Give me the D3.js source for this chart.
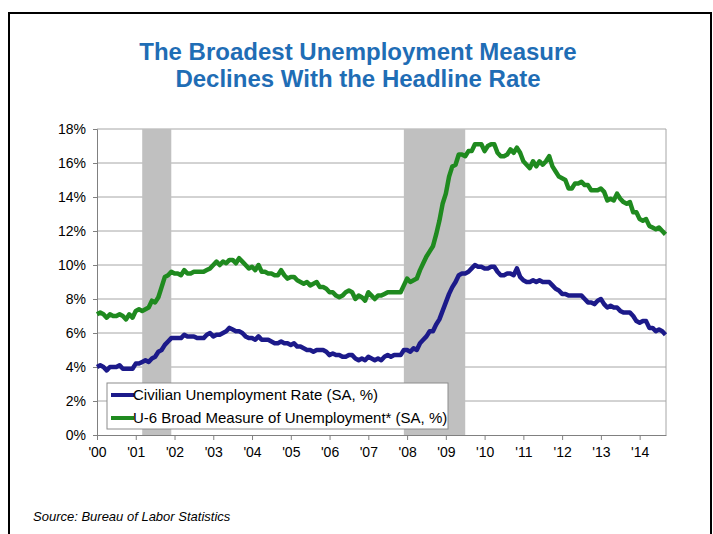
<!DOCTYPE html>
<html>
<head>
<meta charset="utf-8">
<title>The Broadest Unemployment Measure Declines With the Headline Rate</title>
<style>
  body { margin: 0; background: #fff; }
  text { font-family: "Liberation Sans", Arial, sans-serif; }
</style>
</head>
<body>
<svg width="713" height="534"></svg>
<script src="https://d3js.org/d3.v7.min.js"></script>
<script>
// monthly data, Jan 2000 - Sep 2014
var startYear = 2000;

// Civilian unemployment rate (SA, %)
var unrate = [
  4.0, 4.1, 4.0, 3.8, 4.0, 4.0, 4.0, 4.1, 3.9, 3.9, 3.9, 3.9,
  4.2, 4.2, 4.3, 4.4, 4.3, 4.5, 4.6, 4.9, 5.0, 5.3, 5.5, 5.7,
  5.7, 5.7, 5.7, 5.9, 5.8, 5.8, 5.8, 5.7, 5.7, 5.7, 5.9, 6.0,
  5.8, 5.9, 5.9, 6.0, 6.1, 6.3, 6.2, 6.1, 6.1, 6.0, 5.8, 5.7,
  5.7, 5.6, 5.8, 5.6, 5.6, 5.6, 5.5, 5.4, 5.4, 5.5, 5.4, 5.4,
  5.3, 5.4, 5.2, 5.2, 5.1, 5.0, 5.0, 4.9, 5.0, 5.0, 5.0, 4.9,
  4.7, 4.8, 4.7, 4.7, 4.6, 4.6, 4.7, 4.7, 4.5, 4.4, 4.5, 4.4,
  4.6, 4.5, 4.4, 4.5, 4.4, 4.6, 4.7, 4.6, 4.7, 4.7, 4.7, 5.0,
  5.0, 4.9, 5.1, 5.0, 5.4, 5.6, 5.8, 6.1, 6.1, 6.5, 6.8, 7.3,
  7.8, 8.3, 8.7, 9.0, 9.4, 9.5, 9.5, 9.6, 9.8, 10.0, 9.9, 9.9,
  9.8, 9.8, 9.9, 9.9, 9.6, 9.4, 9.4, 9.5, 9.5, 9.4, 9.8, 9.3,
  9.1, 9.0, 9.0, 9.1, 9.0, 9.1, 9.0, 9.0, 9.0, 8.8, 8.6, 8.5,
  8.3, 8.3, 8.2, 8.2, 8.2, 8.2, 8.2, 8.0, 7.8, 7.8, 7.7, 7.9,
  8.0, 7.7, 7.5, 7.6, 7.5, 7.5, 7.3, 7.2, 7.2, 7.2, 7.0, 6.7,
  6.6, 6.7, 6.7, 6.3, 6.3, 6.1, 6.2, 6.1, 5.9
];

// U-6 broad measure of unemployment (SA, %)
var u6 = [
  7.1, 7.2, 7.1, 6.9, 7.1, 7.0, 7.0, 7.1, 7.0, 6.8, 7.1, 6.9,
  7.3, 7.4, 7.3, 7.4, 7.5, 7.9, 7.8, 8.1, 8.7, 9.3, 9.4, 9.6,
  9.5, 9.5, 9.4, 9.7, 9.5, 9.5, 9.6, 9.6, 9.6, 9.6, 9.7, 9.8,
  10.0, 10.2, 10.0, 10.2, 10.1, 10.3, 10.3, 10.1, 10.4, 10.2, 10.0, 9.8,
  9.9, 9.7, 10.0, 9.6, 9.6, 9.5, 9.5, 9.4, 9.4, 9.7, 9.4, 9.2,
  9.3, 9.3, 9.1, 9.0, 8.9, 9.0, 8.8, 8.9, 9.0, 8.7, 8.7, 8.6,
  8.4, 8.4, 8.2, 8.1, 8.2, 8.4, 8.5, 8.4, 8.0, 8.2, 8.1, 7.9,
  8.4, 8.2, 8.0, 8.2, 8.2, 8.3, 8.4, 8.4, 8.4, 8.4, 8.4, 8.8,
  9.2, 9.0, 9.1, 9.2, 9.7, 10.1, 10.5, 10.8, 11.1, 11.8, 12.6, 13.6,
  14.2, 15.2, 15.8, 15.9, 16.5, 16.5, 16.4, 16.7, 16.7, 17.1, 17.1, 17.1,
  16.7, 17.0, 17.1, 17.1, 16.6, 16.4, 16.4, 16.5, 16.8, 16.6, 16.9, 16.6,
  16.1, 15.9, 15.7, 16.1, 15.8, 16.1, 15.9, 16.1, 16.4, 15.8, 15.5, 15.2,
  15.1, 15.0, 14.5, 14.5, 14.8, 14.8, 14.9, 14.7, 14.7, 14.4, 14.4, 14.4,
  14.5, 14.3, 13.8, 13.9, 13.8, 14.2, 13.9, 13.7, 13.6, 13.7, 13.1, 13.1,
  12.7, 12.6, 12.7, 12.3, 12.2, 12.1, 12.2, 12.0, 11.8
];

// recessions (first and last month, inclusive)
var recessionStart = ["2001-03", "2007-12"];
var recessionEnd = ["2001-11", "2009-06"];

var yTicks = [0, 2, 4, 6, 8, 10, 12, 14, 16, 18];
var xTickYears = d3.range(2000, 2015);

var seriesNames = ["Civilian Unemployment Rate (SA, %)", "U-6 Broad Measure of Unemployment* (SA, %)"];
var seriesColors = ["#1c1a8a", "#1f8a1f"];

var svg = d3.select("svg");

// outer frame
svg.append("rect")
  .attr("x", 9).attr("y", 13)
  .attr("width", 702).attr("height", 530)
  .attr("fill", "none").attr("stroke", "#000").attr("stroke-width", 2);

// title
var title = svg.append("text")
  .attr("text-anchor", "middle")
  .attr("font-size", 24)
  .attr("font-weight", "bold")
  .attr("fill", "#1f6db5");
title.append("tspan").attr("x", 358).attr("y", 60).text("The Broadest Unemployment Measure");
title.append("tspan").attr("x", 358).attr("y", 87).text("Declines With the Headline Rate");

var x = d3.scaleLinear().domain([2000, 2014.68]).range([97, 666]);
var y = d3.scaleLinear().domain([0, 18]).range([435, 129]);

function monthPos(s) {
  var p = s.split("-");
  return +p[0] + (+p[1] - 1) / 12;
}

// gridlines
svg.append("g")
  .selectAll("line")
  .data(yTicks.slice(1))
  .join("line")
  .attr("x1", x.range()[0]).attr("x2", x.range()[1])
  .attr("y1", function (d) { return y(d); })
  .attr("y2", function (d) { return y(d); })
  .attr("stroke", "#a6a6a6").attr("stroke-width", 1);

// right border
svg.append("line")
  .attr("x1", 666).attr("x2", 666)
  .attr("y1", y(18)).attr("y2", y(0))
  .attr("stroke", "#a6a6a6");

// recession shading
svg.append("g")
  .selectAll("rect")
  .data(recessionStart)
  .join("rect")
  .attr("x", function (d) { return x(monthPos(d)); })
  .attr("width", function (d, i) { return x(monthPos(recessionEnd[i]) + 1 / 12) - x(monthPos(d)); })
  .attr("y", y(18))
  .attr("height", y(0) - y(18))
  .attr("fill", "#c0c0c0");

// y axis
var yAxis = svg.append("g")
  .attr("transform", "translate(97,0)")
  .call(d3.axisLeft(y).tickValues(yTicks).tickSize(4).tickPadding(7)
    .tickFormat(function (d) { return d + "%"; }));
yAxis.select(".domain").attr("stroke", "#808080");
yAxis.selectAll(".tick line").attr("stroke", "#808080");
yAxis.selectAll("text").attr("font-size", 14).attr("fill", "#000")
  .attr("font-family", "Liberation Sans, Arial, sans-serif");

// x axis
var xAxis = svg.append("g")
  .attr("transform", "translate(0,435)")
  .call(d3.axisBottom(x).tickValues(xTickYears).tickSize(5).tickSizeOuter(0).tickPadding(7)
    .tickFormat(function (d) { return "'" + String(d).slice(2); }));
xAxis.select(".domain").attr("stroke", "#808080");
xAxis.selectAll(".tick line").attr("stroke", "#808080");
xAxis.selectAll("text").attr("font-size", 14).attr("fill", "#000")
  .attr("font-family", "Liberation Sans, Arial, sans-serif");

// lines
var line = d3.line()
  .x(function (d, i) { return x(startYear + i / 12); })
  .y(function (d) { return y(d); });

svg.append("g")
  .selectAll("path")
  .data([u6, unrate])
  .join("path")
  .attr("d", line)
  .attr("fill", "none")
  .attr("stroke", function (d, i) { return i === 0 ? seriesColors[1] : seriesColors[0]; })
  .attr("stroke-width", 4.5)
  .attr("stroke-linejoin", "round");

// legend
var legend = svg.append("g");
legend.append("rect")
  .attr("x", 107).attr("y", 383)
  .attr("width", 341).attr("height", 46)
  .attr("fill", "#fff").attr("stroke", "#8c8c8c");
var item = legend.selectAll("g")
  .data(seriesNames)
  .join("g")
  .attr("transform", function (d, i) { return "translate(0," + (395 + i * 23) + ")"; });
item.append("line")
  .attr("x1", 111).attr("x2", 134)
  .attr("stroke", function (d, i) { return seriesColors[i]; })
  .attr("stroke-width", 4);
item.append("text")
  .attr("x", 133).attr("y", 5)
  .attr("font-size", 15)
  .text(function (d) { return d; });

// source
svg.append("text")
  .attr("x", 33).attr("y", 521)
  .attr("font-size", 13)
  .attr("font-style", "italic")
  .text("Source: Bureau of Labor Statistics");
</script>
</body>
</html>
